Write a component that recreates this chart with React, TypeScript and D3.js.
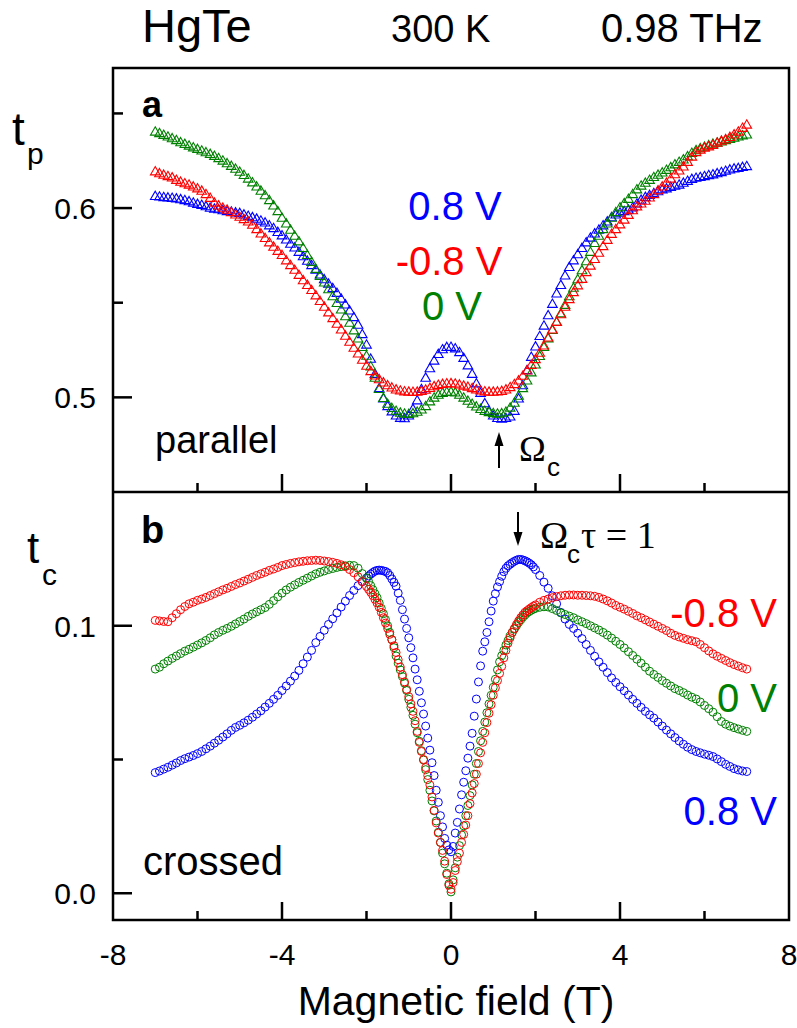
import React from "react";
import * as d3 from "d3";

// ---------- data ----------
const fieldTop: number[] = d3.range(-70, 71).map((i) => i / 10);
const fieldBottom: number[] = [
  ...d3.range(-70, -20).map((i) => i / 10),
  ...d3.range(-40, 41).map((i) => i / 20),
  ...d3.range(21, 71).map((i) => i / 10),
];

const tpBlue = [
  0.6060,0.6057,0.6054,0.6052,0.6050,0.6047,0.6043,0.6038,0.6032,0.6025,
  0.6018,0.6013,0.6006,0.5998,0.5993,0.5990,0.5985,0.5980,0.5977,0.5973,
  0.5970,0.5962,0.5955,0.5948,0.5940,0.5930,0.5920,0.5905,0.5890,0.5870,
  0.5852,0.5830,0.5808,0.5788,0.5765,0.5742,0.5718,0.5695,0.5670,0.5645,
  0.5620,0.5597,0.5573,0.5548,0.5518,0.5487,0.5455,0.5420,0.5380,0.5330,
  0.5275,0.5200,0.5120,0.5045,0.4990,0.4950,0.4922,0.4900,0.4888,0.4886,
  0.4900,0.4935,0.4980,0.5040,0.5100,0.5150,0.5190,0.5225,0.5250,0.5262,
  0.5263,0.5255,0.5235,0.5205,0.5165,0.5120,0.5070,0.5020,0.4965,0.4925,
  0.4900,0.4887,0.4884,0.4887,0.4895,0.4925,0.4990,0.5060,0.5140,0.5210,
  0.5265,0.5320,0.5375,0.5430,0.5490,0.5545,0.5590,0.5640,0.5685,0.5720,
  0.5752,0.5785,0.5815,0.5840,0.5862,0.5882,0.5905,0.5925,0.5948,0.5962,
  0.5972,0.5980,0.5988,0.6000,0.6020,0.6040,0.6055,0.6065,0.6075,0.6085,
  0.6095,0.6100,0.6108,0.6114,0.6120,0.6130,0.6140,0.6150,0.6156,0.6160,
  0.6165,0.6170,0.6174,0.6180,0.6186,0.6193,0.6200,0.6205,0.6208,0.6213,
  0.6218,
];
const tpRed = [
  0.6190,0.6180,0.6172,0.6165,0.6158,0.6145,0.6135,0.6127,0.6120,0.6110,
  0.6100,0.6088,0.6070,0.6050,0.6025,0.6010,0.5998,0.5988,0.5975,0.5962,
  0.5950,0.5938,0.5925,0.5908,0.5885,0.5862,0.5838,0.5815,0.5792,0.5770,
  0.5748,0.5720,0.5695,0.5670,0.5643,0.5615,0.5590,0.5563,0.5535,0.5505,
  0.5475,0.5445,0.5415,0.5385,0.5355,0.5322,0.5290,0.5258,0.5228,0.5195,
  0.5163,0.5135,0.5112,0.5092,0.5075,0.5060,0.5048,0.5038,0.5032,0.5028,
  0.5026,0.5025,0.5026,0.5030,0.5037,0.5046,0.5055,0.5062,0.5067,0.5070,
  0.5071,0.5069,0.5064,0.5058,0.5052,0.5045,0.5038,0.5032,0.5028,0.5026,
  0.5026,0.5027,0.5030,0.5038,0.5050,0.5066,0.5085,0.5110,0.5138,0.5168,
  0.5198,0.5232,0.5270,0.5312,0.5355,0.5395,0.5435,0.5475,0.5515,0.5552,
  0.5588,0.5622,0.5658,0.5692,0.5727,0.5760,0.5795,0.5828,0.5860,0.5885,
  0.5910,0.5935,0.5960,0.5985,0.6005,0.6020,0.6035,0.6052,0.6070,0.6090,
  0.6110,0.6130,0.6152,0.6175,0.6195,0.6216,0.6240,0.6268,0.6292,0.6305,
  0.6315,0.6322,0.6330,0.6342,0.6352,0.6360,0.6372,0.6385,0.6400,0.6420,
  0.6437,
];
const tpGreen = [
  0.6400,0.6392,0.6383,0.6374,0.6365,0.6355,0.6344,0.6335,0.6326,0.6317,
  0.6308,0.6300,0.6291,0.6282,0.6272,0.6260,0.6247,0.6233,0.6219,0.6204,
  0.6188,0.6171,0.6152,0.6132,0.6110,0.6088,0.6064,0.6038,0.6010,0.5980,
  0.5945,0.5915,0.5882,0.5850,0.5820,0.5785,0.5748,0.5712,0.5675,0.5638,
  0.5603,0.5567,0.5530,0.5495,0.5460,0.5425,0.5390,0.5350,0.5307,0.5262,
  0.5216,0.5160,0.5100,0.5040,0.4993,0.4962,0.4940,0.4925,0.4915,0.4910,
  0.4909,0.4912,0.4920,0.4932,0.4950,0.4975,0.4995,0.5010,0.5020,0.5025,
  0.5026,0.5022,0.5010,0.4995,0.4978,0.4962,0.4948,0.4935,0.4925,0.4918,
  0.4913,0.4910,0.4912,0.4920,0.4942,0.4968,0.5005,0.5045,0.5085,0.5128,
  0.5170,0.5215,0.5262,0.5308,0.5352,0.5395,0.5440,0.5485,0.5530,0.5575,
  0.5620,0.5668,0.5715,0.5765,0.5812,0.5850,0.5885,0.5915,0.5945,0.5975,
  0.6000,0.6022,0.6045,0.6070,0.6095,0.6115,0.6130,0.6145,0.6160,0.6172,
  0.6184,0.6198,0.6212,0.6227,0.6240,0.6253,0.6270,0.6288,0.6302,0.6312,
  0.6320,0.6328,0.6336,0.6342,0.6348,0.6355,0.6362,0.6368,0.6374,0.6380,
  0.6385,
];

const tcRed = [
  0.1020,0.1018,0.1016,0.1015,0.1030,0.1045,0.1060,0.1072,0.1082,0.1088,
  0.1095,0.1100,0.1106,0.1113,0.1120,0.1127,0.1134,0.1140,0.1147,0.1154,
  0.1160,0.1167,0.1174,0.1181,0.1188,0.1194,0.1200,0.1207,0.1212,0.1218,
  0.1225,0.1229,0.1233,0.1236,0.1239,0.1241,0.1243,0.1244,0.1245,0.1244,
  0.1242,0.1240,0.1237,0.1233,0.1228,0.1221,0.1210,0.1198,0.1183,0.1165,
  0.1147,0.1136,0.1125,0.1113,0.1099,0.1085,0.1069,0.1050,0.1030,0.1010,
  0.0990,0.0968,0.0948,0.0925,0.0900,0.0873,0.0845,0.0817,0.0790,0.0762,
  0.0735,0.0708,0.0680,0.0645,0.0605,0.0564,0.0530,0.0500,0.0470,0.0440,
  0.0405,0.0360,0.0310,0.0263,0.0225,0.0190,0.0160,0.0120,0.0070,0.0030,
  0.0015,0.0040,0.0085,0.0118,0.0150,0.0190,0.0220,0.0255,0.0290,0.0335,
  0.0375,0.0410,0.0445,0.0485,0.0525,0.0564,0.0600,0.0638,0.0673,0.0705,
  0.0740,0.0768,0.0795,0.0822,0.0848,0.0880,0.0908,0.0935,0.0955,0.0975,
  0.0990,0.1005,0.1018,0.1030,0.1040,0.1050,0.1056,0.1062,0.1068,0.1073,
  0.1078,
  0.1088,0.1095,0.1100,0.1105,0.1109,0.1112,0.1114,0.1115,0.1115,0.1114,
  0.1114,0.1113,0.1112,0.1110,0.1106,0.1100,0.1093,0.1085,0.1076,0.1069,
  0.1062,0.1054,0.1046,0.1037,0.1030,0.1022,0.1014,0.1006,0.0998,0.0990,
  0.0982,0.0972,0.0964,0.0958,0.0953,0.0948,0.0944,0.0940,0.0930,0.0918,
  0.0906,0.0895,0.0886,0.0878,0.0870,0.0862,0.0855,0.0849,0.0843,0.0838,
];
const tcGreen = [
  0.0838,0.0845,0.0858,0.0868,0.0878,0.0887,0.0896,0.0905,0.0912,0.0920,
  0.0928,0.0936,0.0945,0.0955,0.0966,0.0975,0.0983,0.0990,0.0998,0.1007,
  0.1016,0.1025,0.1035,0.1044,0.1052,0.1060,0.1068,0.1080,0.1094,0.1108,
  0.1122,0.1134,0.1144,0.1153,0.1162,0.1170,0.1178,0.1186,0.1194,0.1200,
  0.1205,0.1210,0.1214,0.1218,0.1221,0.1224,0.1226,0.1225,0.1215,0.1195,
  0.1178,0.1165,0.1150,0.1135,0.1120,0.1105,0.1085,0.1065,0.1045,0.1023,
  0.1000,0.0975,0.0948,0.0918,0.0887,0.0860,0.0835,0.0810,0.0785,0.0758,
  0.0725,0.0695,0.0665,0.0632,0.0600,0.0568,0.0533,0.0498,0.0462,0.0425,
  0.0385,0.0345,0.0308,0.0270,0.0228,0.0190,0.0150,0.0110,0.0075,0.0035,
  0.0005,0.0050,0.0095,0.0135,0.0178,0.0218,0.0252,0.0290,0.0328,0.0365,
  0.0405,0.0445,0.0485,0.0530,0.0570,0.0605,0.0640,0.0675,0.0708,0.0740,
  0.0770,0.0800,0.0835,0.0865,0.0888,0.0908,0.0928,0.0945,0.0962,0.0975,
  0.0988,0.1000,0.1012,0.1022,0.1032,0.1040,0.1048,0.1053,0.1058,0.1062,
  0.1065,
  0.1069,0.1071,0.1070,0.1064,0.1057,0.1048,0.1042,0.1036,0.1030,0.1022,
  0.1015,0.1008,0.1000,0.0992,0.0984,0.0975,0.0965,0.0954,0.0942,0.0930,
  0.0917,0.0903,0.0889,0.0875,0.0860,0.0845,0.0830,0.0818,0.0807,0.0795,
  0.0785,0.0775,0.0765,0.0758,0.0750,0.0741,0.0733,0.0726,0.0715,0.0702,
  0.0690,0.0677,0.0660,0.0642,0.0632,0.0625,0.0619,0.0614,0.0609,0.0605,
];
const tcBlue = [
  0.0451,0.0457,0.0464,0.0471,0.0479,0.0487,0.0496,0.0503,0.0509,0.0515,
  0.0522,0.0530,0.0540,0.0550,0.0561,0.0572,0.0584,0.0596,0.0609,0.0620,
  0.0628,0.0637,0.0647,0.0658,0.0670,0.0682,0.0696,0.0710,0.0725,0.0740,
  0.0758,0.0775,0.0793,0.0812,0.0833,0.0858,0.0883,0.0908,0.0937,0.0960,
  0.0983,0.1005,0.1026,0.1048,0.1070,0.1092,0.1113,0.1132,0.1150,0.1165,
  0.1178,0.1186,0.1193,0.1199,0.1204,0.1207,0.1208,0.1207,0.1205,0.1203,
  0.1198,0.1188,0.1175,0.1162,0.1148,0.1122,0.1095,0.1060,0.1025,0.0990,
  0.0955,0.0918,0.0880,0.0838,0.0798,0.0755,0.0712,0.0670,0.0625,0.0580,
  0.0535,0.0488,0.0440,0.0385,0.0340,0.0290,0.0248,0.0205,0.0180,0.0162,
  0.0155,0.0175,0.0225,0.0265,0.0315,0.0368,0.0415,0.0458,0.0505,0.0550,
  0.0598,0.0662,0.0726,0.0790,0.0850,0.0905,0.0940,0.0975,0.1015,0.1055,
  0.1092,0.1120,0.1145,0.1165,0.1185,0.1202,0.1215,0.1224,0.1230,0.1236,
  0.1241,0.1245,0.1248,0.1248,0.1246,0.1243,0.1239,0.1234,0.1228,0.1220,
  0.1210,
  0.1188,0.1163,0.1140,0.1112,0.1082,0.1050,0.1025,0.1005,0.0990,0.0972,
  0.0952,0.0930,0.0908,0.0886,0.0865,0.0845,0.0825,0.0805,0.0788,0.0772,
  0.0757,0.0741,0.0725,0.0710,0.0695,0.0680,0.0667,0.0655,0.0640,0.0625,
  0.0610,0.0596,0.0582,0.0569,0.0557,0.0546,0.0537,0.0530,0.0525,0.0520,
  0.0516,0.0511,0.0502,0.0492,0.0482,0.0474,0.0466,0.0461,0.0457,0.0455,
];

const xMajor = [-8, -4, 0, 4, 8];
const xMinor = [-6, -2, 2, 6];
const tpMajor = [0.5, 0.6];
const tpMinor = [0.55, 0.65];
const tcMajor = [0.0, 0.1];
const tcMinor = [0.05];

const BLUE = "#0000ff";
const RED = "#ff0000";
const GREEN = "#008000";

const topSeries = [
  { name: "0.8 V", color: BLUE, values: tpBlue },
  { name: "0 V", color: GREEN, values: tpGreen },
  { name: "-0.8 V", color: RED, values: tpRed },
];
const bottomSeries = [
  { name: "0.8 V", color: BLUE, values: tcBlue },
  { name: "0 V", color: GREEN, values: tcGreen },
  { name: "-0.8 V", color: RED, values: tcRed },
];

// ---------- layout ----------
const W = 797;
const H = 1028;
const LEFT = 113;
const RIGHT = 789;
const TOP = 68;
const MID = 492;
const BOTTOM = 920;

const SANS = "'Liberation Sans', Arial, sans-serif";
const SERIF = "'Liberation Serif', 'Times New Roman', serif";

export default function App() {
  const x = d3.scaleLinear().domain([-8, 8]).range([LEFT, RIGHT]);
  const yT = d3.scaleLinear().domain([0.45, 0.674]).range([MID, TOP]);
  const yB = d3.scaleLinear().domain([-0.01, 0.15]).range([BOTTOM, MID]);
  const tri = d3.symbol().type(d3.symbolTriangle).size(40)() as string;

  const inner = (v: number) => v > -8 && v < 8;

  return (
    <svg
      width={W}
      height={H}
      viewBox={`0 0 ${W} ${H}`}
      style={{ position: "absolute", left: 0, top: 0, background: "#fff" }}
      fontFamily={SANS}
    >
      <rect x={0} y={0} width={W} height={H} fill="#fff" />
      {/* header */}
      <text x={142} y={42} fontSize={47}>HgTe</text>
      <text x={391} y={42} fontSize={38}>300 K</text>
      <text x={601} y={42} fontSize={40}>0.98 THz</text>

      {/* top panel data */}
      <g>
        {topSeries.map((s) => (
          <g key={s.name} fill="none" stroke={s.color} strokeWidth={1.1}>
            {s.values.map((v, i) => (
              <path key={i} d={tri} transform={`translate(${x(fieldTop[i])},${yT(v)})`} />
            ))}
          </g>
        ))}
      </g>
      {/* bottom panel data */}
      <g>
        {bottomSeries.map((s) => (
          <g key={s.name} fill="none" stroke={s.color} strokeWidth={1}>
            {s.values.map((v, i) => (
              <circle key={i} cx={x(fieldBottom[i])} cy={yB(v)} r={4} />
            ))}
          </g>
        ))}
      </g>

      {/* frame */}
      <g stroke="#000" strokeWidth={2.5} fill="none">
        <rect x={LEFT} y={TOP} width={RIGHT - LEFT} height={BOTTOM - TOP} />
        <line x1={LEFT} x2={RIGHT} y1={MID} y2={MID} />
      </g>

      {/* ticks (inward) */}
      <g stroke="#000" strokeWidth={2.5}>
        {[MID, BOTTOM].map((yy) => (
          <g key={yy}>
            {xMajor.filter(inner).map((t) => (
              <line key={"M" + t} x1={x(t)} x2={x(t)} y1={yy} y2={yy - 18} />
            ))}
            {xMinor.map((t) => (
              <line key={"m" + t} x1={x(t)} x2={x(t)} y1={yy} y2={yy - 9} />
            ))}
          </g>
        ))}
        {tpMajor.map((t) => (
          <line key={"tpM" + t} x1={LEFT} x2={LEFT + 19} y1={yT(t)} y2={yT(t)} />
        ))}
        {tpMinor.map((t) => (
          <line key={"tpm" + t} x1={LEFT} x2={LEFT + 10} y1={yT(t)} y2={yT(t)} />
        ))}
        {tcMajor.map((t) => (
          <line key={"tcM" + t} x1={LEFT} x2={LEFT + 19} y1={yB(t)} y2={yB(t)} />
        ))}
        {tcMinor.map((t) => (
          <line key={"tcm" + t} x1={LEFT} x2={LEFT + 10} y1={yB(t)} y2={yB(t)} />
        ))}
      </g>

      {/* tick labels */}
      <g fontSize={30}>
        {xMajor.map((t) => (
          <text key={t} x={x(t)} y={965} textAnchor="middle">{String(t)}</text>
        ))}
        {tpMajor.map((t) => (
          <text key={t} x={96} y={yT(t) + 11} textAnchor="end">{t.toFixed(1)}</text>
        ))}
        {tcMajor.map((t) => (
          <text key={t} x={96} y={yB(t) + 11} textAnchor="end">{t.toFixed(1)}</text>
        ))}
      </g>

      {/* axis titles */}
      <text x={456} y={1015} fontSize={41} textAnchor="middle">Magnetic field (T)</text>
      <text x={12} y={145} fontSize={46}>t</text>
      <text x={27} y={164} fontSize={30}>p</text>
      <text x={27} y={563} fontSize={44}>t</text>
      <text x={42} y={585} fontSize={30}>c</text>

      {/* panel labels */}
      <text x={142} y={117} fontSize={36} fontWeight="bold">a</text>
      <text x={141} y={543} fontSize={38} fontWeight="bold">b</text>
      <text x={155} y={453} fontSize={38}>parallel</text>
      <text x={143} y={875} fontSize={40}>crossed</text>

      {/* top legend */}
      <g fontSize={40} textAnchor="middle">
        <text x={455} y={220} fill={BLUE}>0.8 V</text>
        <text x={449} y={275} fill={RED}>-0.8 V</text>
        <text x={452} y={320} fill={GREEN}>0 V</text>
      </g>
      {/* bottom legend */}
      <g fontSize={40} textAnchor="end">
        <text x={777} y={627} fill={RED}>-0.8 V</text>
        <text x={777} y={712} fill={GREEN}>0 V</text>
        <text x={777} y={825} fill={BLUE}>0.8 V</text>
      </g>

      {/* Omega_c annotation top */}
      <line x1={499} x2={499} y1={468} y2={444} stroke="#000" strokeWidth={2} />
      <path d="M499,432 L494.5,446 L503.5,446 Z" fill="#000" />
      <text x={519} y={461} fontSize={36} fontFamily={SERIF}>Ω</text>
      <text x={547} y={476} fontSize={26}>c</text>

      {/* Omega_c tau = 1 annotation bottom */}
      <line x1={518} x2={518} y1={512} y2={534} stroke="#000" strokeWidth={2} />
      <path d="M518,546 L513.5,532 L522.5,532 Z" fill="#000" />
      <text x={540} y={548} fontSize={38} fontFamily={SERIF}>Ω</text>
      <text x={567} y={563} fontSize={26}>c</text>
      <text x={581} y={548} fontSize={38} fontFamily={SERIF}>τ = 1</text>
    </svg>
  );
}
